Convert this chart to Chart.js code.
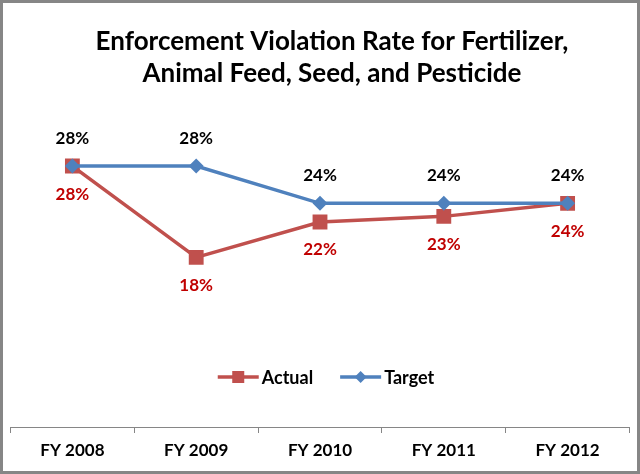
<!DOCTYPE html>
<html>
<head>
<meta charset="utf-8">
<script src="https://cdn.jsdelivr.net/npm/chart.js@4.4.1/dist/chart.umd.min.js"></script>
<style>
  html, body { margin: 0; padding: 0; background: #ffffff; }
  #wrap { position: relative; width: 640px; height: 474px; }
  canvas { display: block; }
</style>
</head>
<body>
<div id="wrap"><canvas id="c" width="640" height="474"></canvas></div>
<script>
// ---- data ----
const categories = ['FY 2008', 'FY 2009', 'FY 2010', 'FY 2011', 'FY 2012'];
const actualValues = [28, 18.2, 22, 22.6, 24];
const targetValues = [28, 28, 24, 24, 24];
const seriesNames = ['Actual', 'Target'];
const titleLines = ['Enforcement Violation Rate for Fertilizer,', 'Animal Feed, Seed, and Pesticide'];

const FONT = 'Lato, "Liberation Sans", sans-serif';
const RED = '#C0504D';
const BLUE = '#4F81BD';
const LABEL_RED = '#C00000';

const framePlugin = {
  id: 'frame',
  afterLayout(chart) {
    if (chart.titleBlock) { chart.titleBlock.left += 11.5; chart.titleBlock.right += 11.5; }
  },
  beforeDraw(chart) {
    const ctx = chart.ctx;
    ctx.save();
    ctx.fillStyle = '#ffffff';
    ctx.fillRect(0, 0, chart.width, chart.height);
    ctx.restore();
  },
  afterDraw(chart) {
    const ctx = chart.ctx;
    ctx.save();
    ctx.strokeStyle = '#868686';
    ctx.lineWidth = 3;
    ctx.strokeRect(1.5, 1.5, chart.width - 3, chart.height - 3);
    ctx.restore();
  }
};

const valueLabelPlugin = {
  id: 'valueLabels',
  afterDatasetsDraw(chart) {
    const ctx = chart.ctx;
    ctx.save();
    ctx.font = 'bold 17px ' + FONT;
    ctx.textAlign = 'center';
    ctx.textBaseline = 'middle';
    chart.data.datasets.forEach((ds, i) => {
      const meta = chart.getDatasetMeta(i);
      meta.data.forEach((pt, j) => {
        ctx.fillStyle = ds.labelColor;
        ctx.fillText(Math.round(ds.data[j]) + '%', pt.x, pt.y + ds.labelOffset);
      });
    });
    ctx.restore();
  }
};

const legendPlugin = {
  id: 'innerLegend',
  afterDraw(chart) {
    const ctx = chart.ctx;
    const area = chart.chartArea;
    ctx.save();
    ctx.font = 'bold 18px ' + FONT;
    ctx.textBaseline = 'middle';
    ctx.textAlign = 'left';
    const lineLen = 41, gap = 3, itemGap = 27;
    const items = chart.data.datasets.map(ds => ({ ds, w: ctx.measureText(ds.label).width }));
    const total = items.reduce((s, it) => s + lineLen + gap + it.w, 0) + itemGap * (items.length - 1);
    let x = (area.left + area.right) / 2 - total / 2 + 6;
    const y = area.bottom - 50;
    items.forEach(it => {
      const ds = it.ds;
      ctx.strokeStyle = ds.borderColor;
      ctx.lineWidth = 3.5;
      ctx.beginPath();
      ctx.moveTo(x, y);
      ctx.lineTo(x + lineLen, y);
      ctx.stroke();
      const cx = x + lineLen / 2;
      ctx.fillStyle = ds.backgroundColor;
      if (ds.pointStyle === 'rect') {
        ctx.fillRect(cx - 6, y - 6, 12, 12);
      } else {
        ctx.beginPath();
        ctx.moveTo(cx, y - 6);
        ctx.lineTo(cx + 6, y);
        ctx.lineTo(cx, y + 6);
        ctx.lineTo(cx - 6, y);
        ctx.closePath();
        ctx.fill();
      }
      ctx.fillStyle = '#000000';
      ctx.fillText(ds.label, x + lineLen + gap, y + 1);
      x += lineLen + gap + it.w + itemGap;
    });
    ctx.restore();
  }
};

function build() {
  new Chart(document.getElementById('c'), {
    type: 'line',
    data: {
      labels: categories,
      datasets: [
        {
          label: seriesNames[0],
          data: actualValues,
          borderColor: RED,
          backgroundColor: RED,
          borderWidth: 3.5,
          pointStyle: 'rect',
          pointRadius: 10.5,
          pointHoverRadius: 10.5,
          pointBorderWidth: 0,
          tension: 0,
          order: 1,
          labelColor: LABEL_RED,
          labelOffset: 28
        },
        {
          label: seriesNames[1],
          data: targetValues,
          borderColor: BLUE,
          backgroundColor: BLUE,
          borderWidth: 3.5,
          pointStyle: 'rectRot',
          pointRadius: 7.5,
          pointHoverRadius: 7.5,
          pointBorderWidth: 0,
          tension: 0,
          order: 0,
          labelColor: '#000000',
          labelOffset: -28
        }
      ]
    },
    options: {
      responsive: false,
      animation: false,
      events: [],
      layout: { padding: { left: 10, right: 9, top: 0, bottom: 5 } },
      plugins: {
        legend: { display: false },
        tooltip: { enabled: false },
        title: {
          display: true,
          text: titleLines,
          color: '#000000',
          font: { family: FONT, size: 26, weight: 'bold', lineHeight: 32 / 26 },
          padding: { top: 26, bottom: 57.4 }
        }
      },
      scales: {
        x: {
          type: 'category',
          offset: true,
          grid: {
            offset: true,
            drawOnChartArea: false,
            drawTicks: true,
            tickLength: 6,
            color: '#868686',
            lineWidth: 1
          },
          border: { display: true, color: '#868686', width: 1 },
          ticks: {
            color: '#000000',
            font: { family: FONT, size: 17, weight: 'bold' },
            padding: 7.8,
            maxRotation: 0
          }
        },
        y: {
          display: false,
          min: 0,
          max: 30
        }
      }
    },
    plugins: [framePlugin, valueLabelPlugin, legendPlugin]
  });
}

Promise.all([
  document.fonts.load('bold 26px Lato'),
  document.fonts.load('bold 17px Lato'),
  document.fonts.load('bold 18px Lato')
]).then(build, build);
</script>
</body>
</html>
